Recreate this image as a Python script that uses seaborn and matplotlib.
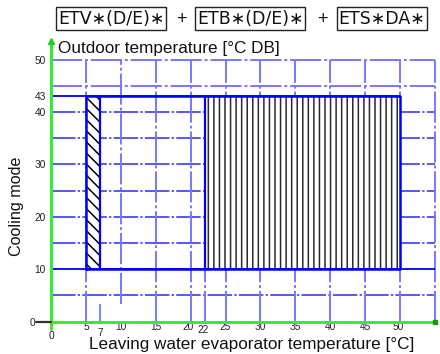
import numpy as np
import pandas as pd
import matplotlib
matplotlib.use('Agg')
import matplotlib.pyplot as plt
import matplotlib.transforms as mtrans
import seaborn as sns

# ---- data ----
x_ticks = [0, 5, 7, 10, 15, 20, 22, 25, 30, 35, 40, 45, 50]
y_ticks = [0, 10, 20, 30, 40, 43, 50]
env_x = [5, 50, 50, 5, 5]
env_y = [10, 10, 43, 43, 10]
env_ymin, env_ymax = 10, 43
diag_band = [5, 7]
vert_band = [22, 50]
grid_h_dark = [5, 15, 20, 25, 30, 35, 40]
grid_h_light = [45, 50]
grid_v = [10, 15, 20, 25, 30, 35, 40, 45, 50, 55]
x_axis_end = 55
title_parts = ['ETV∗(D/E)∗', 'ETB∗(D/E)∗', 'ETS∗DA∗']
title_cx_px = [111, 250, 382]
plus_x_px = [181, 322]

sns.set_style('white')
plt.rcParams['font.family'] = ['Liberation Sans', 'DejaVu Sans']
plt.rcParams['hatch.linewidth'] = 1.1

W, H = 440, 354
fig = plt.figure(figsize=(W / 100, H / 100), dpi=100)
x0_px, y0_px = 51, 321.7
sx, sy = 6.982, 5.244
ax = fig.add_axes([x0_px / W, (H - y0_px) / H, (W - x0_px) / W, y0_px / H])
ax.set_xlim(0, (W - x0_px) / sx)
ax.set_ylim(0, y0_px / sy)
for s in ax.spines.values():
    s.set_visible(False)
ax.set_facecolor('white')

dash = (0, (16, 1.5, 1.5, 1.5))
light = '#7878ff'
dark = '#2a2aff'

# grid lines
ax.hlines(grid_h_dark, 0, x_axis_end, colors=dark, linestyles=[dash], lw=1.1, zorder=1)
ax.hlines(grid_h_light, 0, x_axis_end, colors=light, linestyles=[dash], lw=1.4, zorder=1)
ax.vlines([g for g in grid_v if g != 10], 0, 50, colors=light, linestyles=[dash], lw=1.4, zorder=1)
ax.vlines([10], 3.4, 50, colors=light, linestyles=[dash], lw=1.4, zorder=1)
ax.vlines([7], 0, 3.4, colors=light, lw=1.3, zorder=1)
ax.vlines([5], 0, 50, colors=light, linestyles=[dash], lw=1.4, zorder=1)
ax.vlines([22], 0, env_ymin, colors=light, linestyles=[dash], lw=1.4, zorder=1)

# hatched regions
ax.fill_between(diag_band, env_ymin, env_ymax, facecolor='white', edgecolor='black',
                hatch='\\\\\\', linewidth=0, zorder=2)
ax.fill_between(vert_band, env_ymin, env_ymax, facecolor='white', edgecolor='#2a2a2a',
                hatch='|||', linewidth=0, zorder=2)

# envelope extension lines
ax.hlines([env_ymin], 0, x_axis_end, colors='#0000ff', lw=1.3, zorder=3)
ax.hlines([env_ymax], 0, 50, colors='#0000ff', lw=1.3, zorder=3)
ax.vlines([diag_band[1], vert_band[0]], env_ymin, env_ymax, colors='#0000ff', lw=1.6, zorder=3)

# envelope outline via seaborn
env_df = pd.DataFrame({'x': env_x, 'y': env_y})
sns.lineplot(data=env_df, x='x', y='y', sort=False, estimator=None,
             color='#0000ff', lw=1.8, ax=ax, zorder=4)

# green axes
green = '#33ee33'
ax.plot([0, x_axis_end], [0, 0], color=green, lw=2.2, clip_on=False, zorder=5)
ax.plot([0, 0], [-1.4, 53.2], color=green, lw=2.2, clip_on=False, zorder=5)
ax.plot([0], [53.6], marker='^', ms=4.5, color='#22cc22', clip_on=False, zorder=6)
ax.plot([x_axis_end], [0], marker='s', ms=3.5, color='#119911', clip_on=False, zorder=6)
ax.plot([-2.1, 0], [0, 0], color='#333333', lw=1.6, clip_on=False, zorder=5)

# ticks
ax.set_xticks(x_ticks)
ax.set_xticklabels([str(v) for v in x_ticks])
ax.set_yticks(y_ticks)
ax.set_yticklabels([str(v) for v in y_ticks])
ax.tick_params(axis='x', length=0, pad=0.3, labelsize=7.3)
ax.tick_params(axis='y', length=0, pad=3.8, labelsize=7.3)
for lab in ax.get_xticklabels() + ax.get_yticklabels():
    lab.set_color('#222222')
shift_x = {'0': (0, -8.5), '7': (0, -5.5), '22': (-2, -2.5), '20': (-3, 0), '50': (-2, 0)}
for lab in ax.get_xticklabels():
    t = lab.get_text()
    if t in shift_x:
        dx, dy = shift_x[t]
        lab.set_transform(lab.get_transform() + mtrans.ScaledTranslation(dx / 100, dy / 100, fig.dpi_scale_trans))
for lab in ax.get_yticklabels():
    if lab.get_text() == '0':
        lab.set_transform(lab.get_transform() + mtrans.ScaledTranslation(-10 / 100, 0, fig.dpi_scale_trans))
ax.set_xlabel('')
ax.set_ylabel('')

# axis titles
fig.text(58 / W, 1 - 53.3 / H, 'Outdoor temperature [°C DB]', fontsize=12.3, ha='left', va='baseline', color='#111111')
fig.text(252 / W, 1 - 344 / H, 'Leaving water evaporator temperature [°C]', fontsize=12.3, ha='center', va='center', color='#111111')
fig.text(17 / W, 1 - 206 / H, 'Cooling mode', fontsize=11.6, rotation=90, ha='center', va='center', color='#111111')

# title parts with boxes
for cx, txt in zip(title_cx_px, title_parts):
    fig.text(cx / W, 1 - 18.5 / H, txt, fontsize=12.5, ha='center', va='center', color='#111111',
             family=['DejaVu Sans'],
             bbox=dict(boxstyle='square,pad=0.12', fc='white', ec='#222222', lw=1.0))
for px in plus_x_px:
    fig.text(px / W, 1 - 19 / H, '+', fontsize=13, ha='center', va='center', color='#111111')

fig.savefig('out.png', dpi=100)
